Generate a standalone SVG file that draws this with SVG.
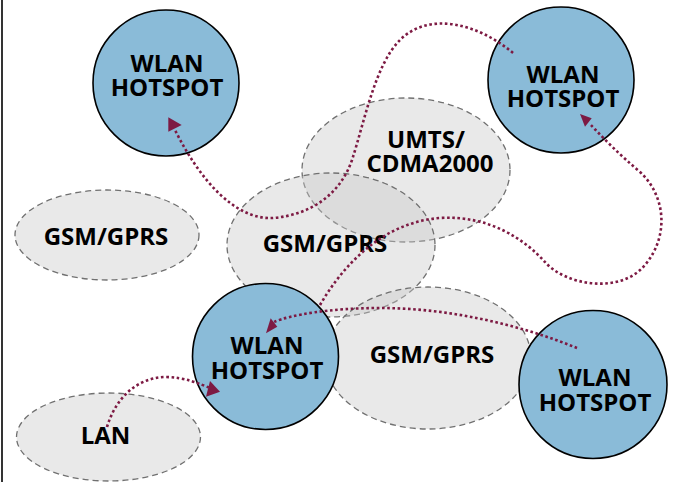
<svg xmlns="http://www.w3.org/2000/svg" width="695" height="482" viewBox="0 0 695 482">
<style>
.cell{fill:#c8c8c8;fill-opacity:0.4;stroke:#707070;stroke-width:1.3;stroke-dasharray:6 4}
.hot{fill:#8abbd8;stroke:#000;stroke-width:1.6}
.lbl{font-family:"Open Sans","DejaVu Sans",sans-serif;font-weight:bold;font-size:24px;fill:#000;text-anchor:middle}
.link{fill:none;stroke:#7d1a43;stroke-width:2.6;stroke-dasharray:2.6 2.6}
.head{fill:#7d1a43}
</style>
<rect width="695" height="482" fill="#fff"/>
<line x1="2" y1="0" x2="2" y2="482" stroke="#000" stroke-width="1.6"/>
<g id="gsm-left"><ellipse class="cell" cx="107" cy="235" rx="92" ry="45"/><text class="lbl" x="106" y="245">GSM/GPRS</text></g>
<g id="lan"><ellipse class="cell" cx="108.5" cy="437" rx="92" ry="44"/><text class="lbl" x="105.5" y="444">LAN</text></g>
<g id="umts"><ellipse class="cell" cx="406" cy="170" rx="104" ry="72"/><text class="lbl"><tspan x="426" y="148">UMTS/</tspan><tspan x="430" y="172">CDMA2000</tspan></text></g>
<g id="gsm-center"><ellipse class="cell" cx="331" cy="245" rx="104" ry="72"/><text class="lbl" x="325" y="252">GSM/GPRS</text></g>
<g id="gsm-right"><ellipse class="cell" cx="428" cy="358" rx="103" ry="71"/><text class="lbl" x="432" y="363">GSM/GPRS</text></g>
<g id="wlan1"><circle class="hot" cx="166" cy="83" r="73"/><text class="lbl"><tspan x="167" y="72">WLAN</tspan><tspan x="167" y="96">HOTSPOT</tspan></text></g>
<g id="wlan2"><circle class="hot" cx="561" cy="80" r="73"/><text class="lbl"><tspan x="563" y="83">WLAN</tspan><tspan x="563" y="107">HOTSPOT</tspan></text></g>
<g id="wlan3"><circle class="hot" cx="265.5" cy="356.5" r="73"/><text class="lbl"><tspan x="267" y="354">WLAN</tspan><tspan x="267" y="379">HOTSPOT</tspan></text></g>
<g id="wlan4"><circle class="hot" cx="593" cy="384.5" r="74"/><text class="lbl"><tspan x="595" y="386">WLAN</tspan><tspan x="595" y="411">HOTSPOT</tspan></text></g>
<g id="connectors">
<path class="link" d="M513,53 C480,25 430,10 400,40 C375,65 365,120 352,160 C340,195 310,215 273,218 C235,220 200,180 175,130"/>
<polygon class="head" points="168.3,117.3 181.7,125 168.3,131.7"/>
<path class="link" d="M577,348 C520,325 450,308 380,308 C330,308 290,315 274,322"/>
<polygon class="head" points="266,333.3 270.7,318.3 277.3,326.7"/>
<path class="link" d="M320,305 C345,262 385,222 440,218 C490,215 525,240 545,262 C565,285 620,295 645,265 C670,235 665,195 640,172 C620,155 605,140 590,124"/>
<polygon class="head" points="580,114 591.7,118.3 585,126.7"/>
<path class="link" d="M107,427 C115,400 135,378 165,377 C185,377 200,384 210,388"/>
<polygon class="head" points="210,381 220,391.7 206,396.7"/>
</g>
</svg>
